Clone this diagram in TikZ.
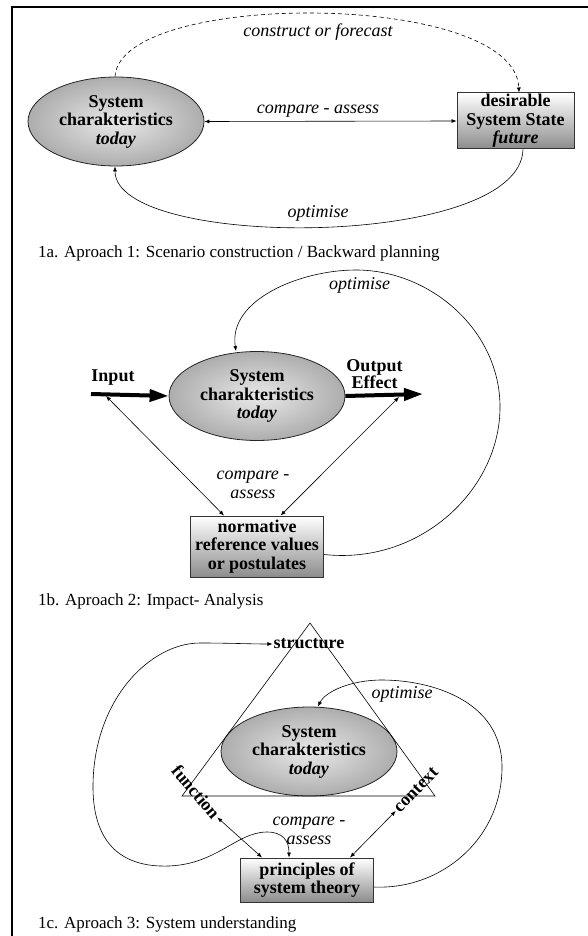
\documentclass[tikz,border=0pt]{standalone}
\usepackage{fontspec}
\setmainfont{Liberation Serif}
\usetikzlibrary{shapes.geometric,arrows.meta}
\colorlet{ellA}{black!9}
\colorlet{ellB}{black!16}
\colorlet{ellC}{black!56}
\pgfdeclareradialshading{sysell}{\pgfpoint{0bp}{0bp}}{color(0bp)=(ellA); color(8bp)=(ellB); color(50bp)=(ellC)}
\tikzset{
  ellip/.style={ellipse, draw=black!85, line width=0.8pt, shade, shading=sysell,
    minimum width=176pt, minimum height=89pt, inner sep=0pt, align=center,
    font=\fontsize{18}{18.5}\selectfont\bfseries},
  boxnode/.style={rectangle, draw=black!80, line width=1pt, top color=white, bottom color=black!45,
    align=center, inner sep=1pt, font=\fontsize{18}{18.5}\selectfont\bfseries},
  lab/.style={font=\fontsize{18}{19}\selectfont\itshape, align=center, inner sep=1pt},
  bl/.style={font=\fontsize{18}{17}\selectfont\bfseries, align=center, inner sep=1pt},
  capt/.style={anchor=base west, inner sep=0pt, font=\fontsize{17}{19}\selectfont},
  conn/.style={line width=0.6pt},
  dconn/.style={line width=0.6pt, {Latex[length=5pt,width=4pt]}-{Latex[length=5pt,width=4pt]}},
  aconn/.style={line width=0.6pt, -{Latex[length=5pt,width=4pt]}},
  bigarrow/.style={line width=4pt, -{Triangle[length=19pt,width=12pt]}},
}
\begin{document}
\begin{tikzpicture}[x=1pt,y=-1pt]
\useasboundingbox (0,0) rectangle (588,936);
\draw[line width=2.4pt, line join=miter] (12,936) -- (12,7) -- (588,7);

% ---------- 1a ----------
\node[ellip] (e1) at (116,121.5) {System\\charakteristics\\\textit{today}};
\node[boxnode, minimum width=117pt, minimum height=56pt] (b1) at (515.5,121) {desirable\\System State\\\textit{future}};
\draw[dconn] (e1.east) -- (b1.west);
\node[lab] (l1a) at (318,111) {compare - assess};
\draw[aconn, dash pattern=on 4pt off 3pt] ([xshift=-1pt]e1.north) .. controls (120,-10) and (515,-10) .. ([xshift=3.5pt]b1.north);
\node[lab] (l1b) at (318,32) {construct or forecast};
\draw[aconn] ([xshift=7.5pt]b1.south) .. controls (520,250) and (115,250) .. ([xshift=-1pt]e1.south);
\node[lab] (l1c) at (318,213) {optimise};
\node[capt] (c1) at (38,257) {1a. Aproach 1: Scenario construction / Backward planning};

% ---------- 1b ----------
\node[ellip] (e2) at (257,396) {System\\charakteristics\\\textit{today}};
\coordinate (in) at (91,394);
\coordinate (out) at (423,394);
\draw[bigarrow] (in) -- (e2.west);
\draw[bigarrow] (e2.east) -- (out);
\node[bl] (inl) at (113,378) {Input};
\node[bl] (outl) at (374.5,374.5) {Output\\Effect};
\node[boxnode, minimum width=133.5pt, minimum height=61pt] (b2) at (257,546.5) {normative\\reference values\\or postulates};
\coordinate (inA) at (106,396);
\coordinate (outA) at (399,397);
\draw[dconn] (inA) -- ([xshift=-33pt]b2.north);
\draw[dconn] (outA) -- ([xshift=23.6pt]b2.north);
\node[lab] (l2a) at (253,484.5) {compare -\\assess};
\draw[aconn] ([yshift=-8pt]b2.east) .. controls (420,565) and (500,490) .. (500,407)
   .. controls (500,330) and (430,270) .. (356,270)
   .. controls (300,270) and (228,300) .. ([xshift=-21pt]e2.north);
\node[lab] (l2b) at (359.5,285) {optimise};
\node[capt] (c2) at (38,605) {1b. Aproach 2: Impact- Analysis};

% ---------- 1c ----------
\coordinate (tA) at (310,623);
\coordinate (tB) at (182,796);
\coordinate (tC) at (435,796);
\node[ellip] (e3) at (309,751.5) {System\\charakteristics\\\textit{today}};
\draw[conn, line join=miter] (tA) -- (tB) -- (tC) -- cycle;
\node[bl] (st) at (309,644) {structure};
\node[bl, rotate=-50] (fn) at (196,792) {function};
\node[bl, rotate=46] (ctx) at (416,790) {context};
\node[boxnode, minimum width=133.5pt, minimum height=44pt] (b3) at (307,880) {principles of\\system theory};
\draw[dconn] (fn.east) -- ([xshift=-45pt]b3.north);
\draw[dconn] (ctx.west) -- ([xshift=43pt]b3.north);
\node[lab] (l3a) at (309,831) {compare -\\assess};
\draw[aconn] ([yshift=-7pt]b3.east) .. controls (440,890) and (502,840) .. (502,767)
   .. controls (502,700) and (430,680) .. (382,680)
   .. controls (350,680) and (325,692) .. ([xshift=9pt]e3.north);
\node[lab] (l3b) at (402,694) {optimise};
\draw[dconn] ([xshift=-18pt]b3.north) .. controls (289,840) and (282,832) .. (267,832)
   .. controls (235,832) and (215,868) .. (160,866)
   .. controls (110,864) and (93,830) .. (93,787)
   .. controls (93,700) and (150,643) .. (200,643)
   .. controls (230,643) and (250,644) .. (st.west);
\node[capt] (c3) at (38,928) {1c. Aproach 3: System understanding};
\end{tikzpicture}
\end{document}
